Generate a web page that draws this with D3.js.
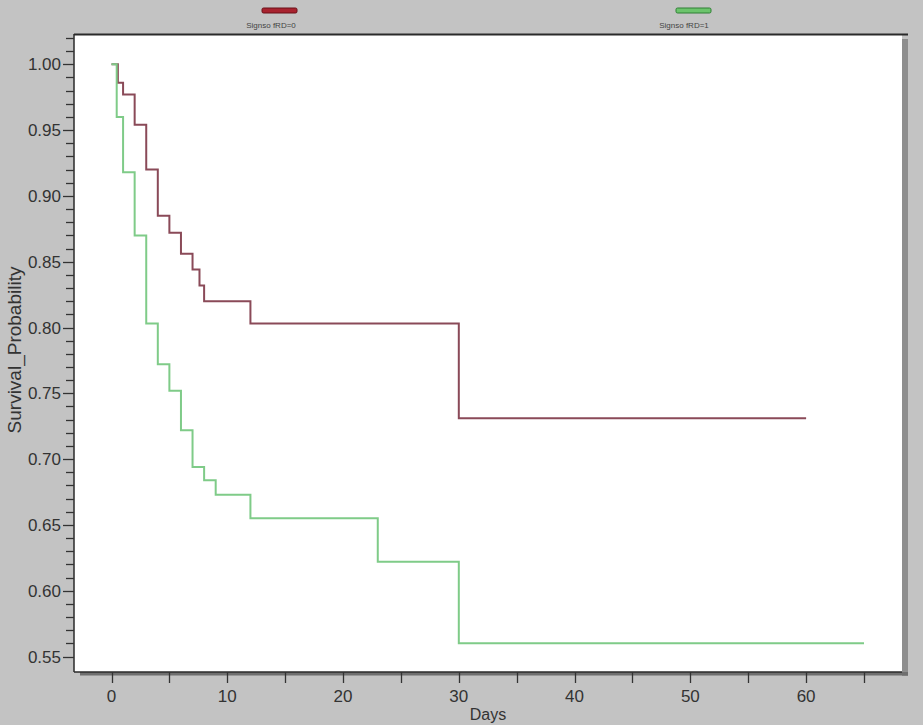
<!DOCTYPE html>
<html>
<head>
<meta charset="utf-8">
<script src="https://cdn.jsdelivr.net/npm/d3@7"></script>
<style>
  html, body { margin: 0; padding: 0; background: #c3c3c3; }
  svg { display: block; font-family: "Liberation Sans", Arial, sans-serif; }
</style>
</head>
<body>
<svg id="chart" width="923" height="725"></svg>
<script>
// ---- data ----
const seriesNames = ["Signso fRD=0", "Signso fRD=1"];
const redTimes   = [0, 0.55, 1, 2, 3, 4, 5, 6, 7, 7.6, 8, 12, 30, 60];
const redSurv    = [1.00, 0.986, 0.977, 0.954, 0.920, 0.885, 0.872, 0.856, 0.844, 0.832, 0.820, 0.803, 0.731, 0.731];
const greenTimes = [0, 0.45, 1, 2, 3, 4, 5, 6, 7, 8, 9, 12, 23, 30, 65];
const greenSurv  = [1.00, 0.960, 0.918, 0.870, 0.803, 0.772, 0.752, 0.722, 0.694, 0.684, 0.673, 0.655, 0.622, 0.560, 0.560];
const xTickLabels = [0, 10, 20, 30, 40, 50, 60];
const xMinorTicks = [0, 5, 10, 15, 20, 25, 30, 35, 40, 45, 50, 55, 60, 65];
const yTickLabels = [0.55, 0.60, 0.65, 0.70, 0.75, 0.80, 0.85, 0.90, 0.95, 1.00];
const xTitle = "Days";
const yTitle = "Survival_Probability";

const svg = d3.select("#chart");

// plot frame
const frame = {left: 74, top: 35, right: 902, bottom: 672};

const x = d3.scaleLinear().domain([0, 65]).range([111.5, 864]);
const y = d3.scaleLinear().domain([0.55, 1.00]).range([656.5, 64.3]);

// shadow right & bottom
svg.append("rect").attr("x", frame.right).attr("y", frame.top + 4)
  .attr("width", 6).attr("height", frame.bottom - frame.top)
  .attr("fill", "#8e8e8e");
svg.append("rect").attr("x", 80).attr("y", frame.bottom)
  .attr("width", frame.right - 80 + 6).attr("height", 3.5)
  .attr("fill", "#6f6f6f");

// white plot area
svg.append("rect").attr("x", frame.left).attr("y", frame.top)
  .attr("width", frame.right - frame.left).attr("height", frame.bottom - frame.top)
  .attr("fill", "#ffffff");

// top border
svg.append("line").attr("x1", frame.left).attr("x2", frame.right + 6)
  .attr("y1", frame.top - 0.5).attr("y2", frame.top - 0.5)
  .attr("stroke", "#2a2a2a").attr("stroke-width", 2);
// left axis line
svg.append("line").attr("x1", frame.left).attr("x2", frame.left)
  .attr("y1", frame.top - 1).attr("y2", frame.bottom)
  .attr("stroke", "#2a2a2a").attr("stroke-width", 1.5);
// bottom border
svg.append("line").attr("x1", frame.left).attr("x2", frame.right)
  .attr("y1", frame.bottom).attr("y2", frame.bottom)
  .attr("stroke", "#2a2a2a").attr("stroke-width", 1.5);

// y axis ticks
const yMinor = d3.range(55, 103).map(v => v / 100);
svg.append("g").selectAll("line").data(yMinor).join("line")
  .attr("x1", d => (Math.round(d * 100) % 5 === 0) ? frame.left - 11 : frame.left - 8)
  .attr("x2", frame.left)
  .attr("y1", d => Math.round(y(d)) + 0.5).attr("y2", d => Math.round(y(d)) + 0.5)
  .attr("stroke", "#333").attr("stroke-width", 1.3);
svg.append("g").selectAll("text").data(yTickLabels).join("text")
  .attr("x", 61).attr("y", d => y(d) + 6)
  .attr("text-anchor", "end").attr("font-size", 17).attr("fill", "#333")
  .text(d => d3.format(".2f")(d));

// x axis ticks
svg.append("g").selectAll("line").data(xMinorTicks).join("line")
  .attr("x1", d => Math.round(x(d)) + 0.5).attr("x2", d => Math.round(x(d)) + 0.5)
  .attr("y1", frame.bottom).attr("y2", frame.bottom + 11)
  .attr("stroke", "#333").attr("stroke-width", 1.3);
svg.append("g").selectAll("text").data(xTickLabels).join("text")
  .attr("x", d => x(d)).attr("y", 702)
  .attr("text-anchor", "middle").attr("font-size", 17).attr("fill", "#333")
  .text(d => d);

// titles
svg.append("text").attr("x", 488).attr("y", 720)
  .attr("text-anchor", "middle").attr("font-size", 16).attr("fill", "#333")
  .text(xTitle);
svg.append("text").attr("transform", "translate(21,350) rotate(-90)")
  .attr("text-anchor", "middle").attr("font-size", 19).attr("fill", "#333")
  .text(yTitle);

// curves
const line = d3.line().x(d => x(d[0])).y(d => y(d[1])).curve(d3.curveStepAfter);
const redData = redTimes.map((t, i) => [t, redSurv[i]]);
const greenData = greenTimes.map((t, i) => [t, greenSurv[i]]);
svg.append("path").datum(redData).attr("d", line)
  .attr("fill", "none").attr("stroke", "#8a4a58").attr("stroke-width", 2);
svg.append("path").datum(greenData).attr("d", line)
  .attr("fill", "none").attr("stroke", "#7fcb88").attr("stroke-width", 2);

// legend
const legend = [
  {name: seriesNames[0], sx: 262, tx: 271, fill: "#a8232f", stroke: "#6a1119"},
  {name: seriesNames[1], sx: 676, tx: 684, fill: "#6cc46c", stroke: "#2f7f34"}
];
const lg = svg.append("g").selectAll("g").data(legend).join("g");
lg.append("rect").attr("x", d => d.sx).attr("y", 8).attr("width", 35).attr("height", 5)
  .attr("rx", 1.5).attr("fill", d => d.fill).attr("stroke", d => d.stroke).attr("stroke-width", 1);
lg.append("text").attr("x", d => d.tx).attr("y", 28).attr("text-anchor", "middle")
  .attr("font-size", 8).attr("fill", "#444").text(d => d.name);
</script>
</body>
</html>
